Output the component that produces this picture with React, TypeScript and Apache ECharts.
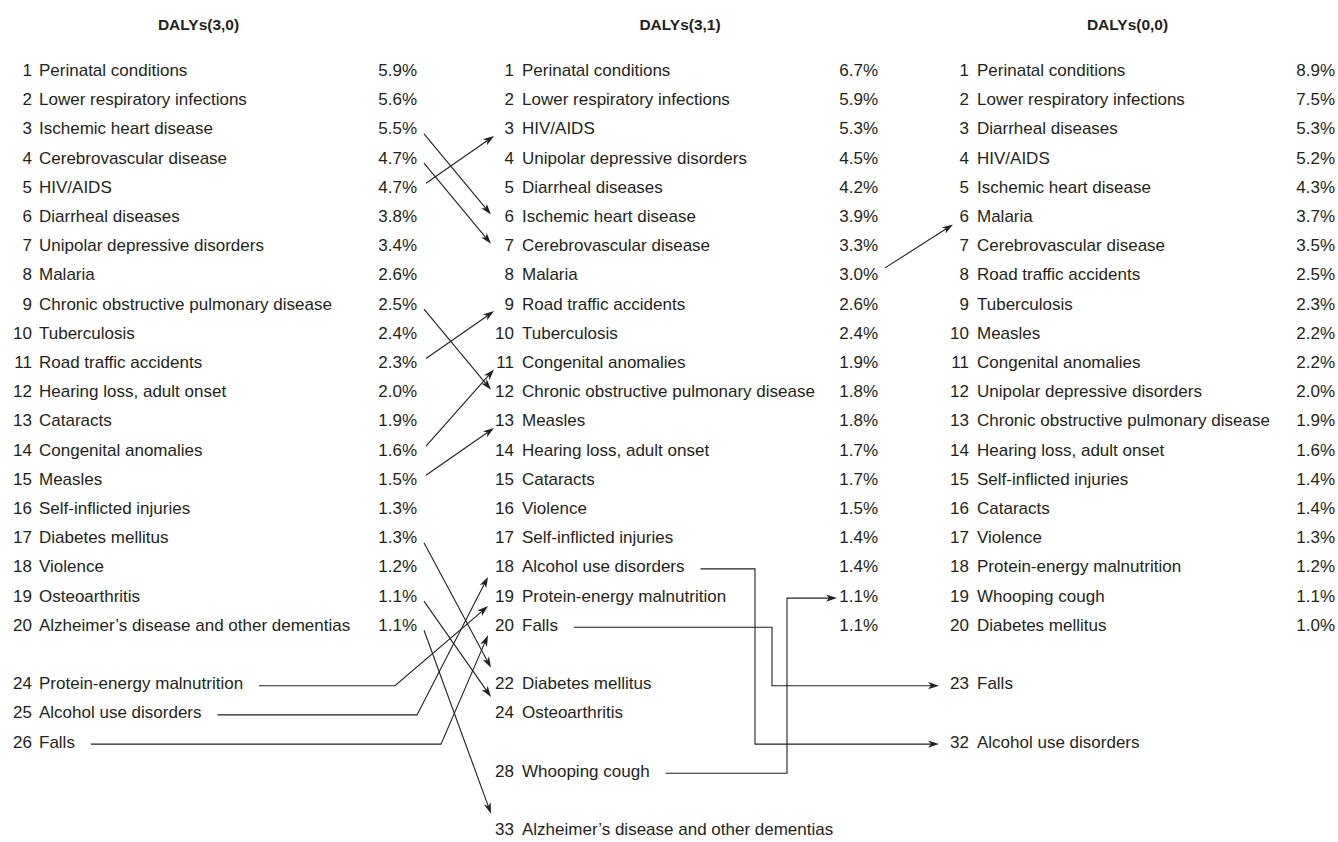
import React, { useEffect, useRef } from 'react';
import * as echarts from 'echarts';

// ---------- data ----------
const titles = ['DALYs(3,0)', 'DALYs(3,1)', 'DALYs(0,0)'];

const causes30 = [
  'Perinatal conditions', 'Lower respiratory infections', 'Ischemic heart disease', 'Cerebrovascular disease',
  'HIV/AIDS', 'Diarrheal diseases', 'Unipolar depressive disorders', 'Malaria',
  'Chronic obstructive pulmonary disease', 'Tuberculosis', 'Road traffic accidents', 'Hearing loss, adult onset',
  'Cataracts', 'Congenital anomalies', 'Measles', 'Self-inflicted injuries', 'Diabetes mellitus', 'Violence',
  'Osteoarthritis', 'Alzheimer\u2019s disease and other dementias',
];
const shares30 = [5.9, 5.6, 5.5, 4.7, 4.7, 3.8, 3.4, 2.6, 2.5, 2.4, 2.3, 2.0, 1.9, 1.6, 1.5, 1.3, 1.3, 1.2, 1.1, 1.1];
const extraRanks30 = [24, 25, 26];
const extraCauses30 = ['Protein-energy malnutrition', 'Alcohol use disorders', 'Falls'];
const extraRows30 = [22, 23, 24];

const causes31 = [
  'Perinatal conditions', 'Lower respiratory infections', 'HIV/AIDS', 'Unipolar depressive disorders',
  'Diarrheal diseases', 'Ischemic heart disease', 'Cerebrovascular disease', 'Malaria', 'Road traffic accidents',
  'Tuberculosis', 'Congenital anomalies', 'Chronic obstructive pulmonary disease', 'Measles',
  'Hearing loss, adult onset', 'Cataracts', 'Violence', 'Self-inflicted injuries', 'Alcohol use disorders',
  'Protein-energy malnutrition', 'Falls',
];
const shares31 = [6.7, 5.9, 5.3, 4.5, 4.2, 3.9, 3.3, 3.0, 2.6, 2.4, 1.9, 1.8, 1.8, 1.7, 1.7, 1.5, 1.4, 1.4, 1.1, 1.1];
const extraRanks31 = [22, 24, 28, 33];
const extraCauses31 = ['Diabetes mellitus', 'Osteoarthritis', 'Whooping cough', 'Alzheimer\u2019s disease and other dementias'];
const extraRows31 = [22, 23, 25, 27];

const causes00 = [
  'Perinatal conditions', 'Lower respiratory infections', 'Diarrheal diseases', 'HIV/AIDS',
  'Ischemic heart disease', 'Malaria', 'Cerebrovascular disease', 'Road traffic accidents', 'Tuberculosis',
  'Measles', 'Congenital anomalies', 'Unipolar depressive disorders', 'Chronic obstructive pulmonary disease',
  'Hearing loss, adult onset', 'Self-inflicted injuries', 'Cataracts', 'Violence', 'Protein-energy malnutrition',
  'Whooping cough', 'Diabetes mellitus',
];
const shares00 = [8.9, 7.5, 5.3, 5.2, 4.3, 3.7, 3.5, 2.5, 2.3, 2.2, 2.2, 2.0, 1.9, 1.6, 1.4, 1.4, 1.3, 1.2, 1.1, 1.0];
const extraRanks00 = [23, 32];
const extraCauses00 = ['Falls', 'Alcohol use disorders'];
const extraRows00 = [22, 24];

// rank moves drawn as arrows: [rank before, rank after]
const shifts30to31 = [[3, 6], [4, 7], [5, 3], [9, 12], [11, 9], [14, 11], [15, 13], [17, 22], [19, 24], [20, 33], [24, 19], [25, 18], [26, 20]];
const shifts31to00 = [[8, 6], [18, 32], [20, 23], [28, 19]];

// ---------- layout ----------
const FONT_FAMILY = '"Liberation Sans", Arial, sans-serif';
const FONT_SIZE = 17;
const INK = '#231f20';
const RANK_RIGHT = [32, 514, 969];
const NAME_LEFT = [39, 522, 977];
const SHARE_RIGHT = [417, 878, 1335];
const TITLE_CENTER = [198.5, 680, 1127.5];
const ELBOW_X_0: Record<number, number> = { 24: 395, 25: 417, 26: 441 };
const ELBOW_X_1: Record<number, number> = { 18: 755, 20: 772, 28: 787 };

type Col = { ranks: number[]; names: string[]; shares: (number | null)[]; rows: number[] };
function makeCol(causes: string[], shares: number[], xr: number[], xc: string[], xrows: number[]): Col {
  return {
    ranks: causes.map((_, i) => i + 1).concat(xr),
    names: causes.concat(xc),
    shares: (shares as (number | null)[]).concat(xr.map(() => null)),
    rows: causes.map((_, i) => i + 1).concat(xrows),
  };
}
const cols = [
  makeCol(causes30, shares30, extraRanks30, extraCauses30, extraRows30),
  makeCol(causes31, shares31, extraRanks31, extraCauses31, extraRows31),
  makeCol(causes00, shares00, extraRanks00, extraCauses00, extraRows00),
];

export default function App() {
  const ref = useRef<HTMLDivElement>(null);
  useEffect(() => {
    document.body.style.margin = '0';
    const font = `${FONT_SIZE}px ${FONT_FAMILY}`;
    const ctx = document.createElement('canvas').getContext('2d')!;
    ctx.font = font;
    const measure = (t: string) => ctx.measureText(t).width;

    type TextItem = { x: number; row: number; text: string; align: string };
    const texts: TextItem[] = [];
    cols.forEach((c, ci) => {
      c.ranks.forEach((r, i) => {
        texts.push({ x: RANK_RIGHT[ci], row: c.rows[i], text: String(r), align: 'right' });
        texts.push({ x: NAME_LEFT[ci], row: c.rows[i], text: c.names[i], align: 'left' });
        const s = c.shares[i];
        if (s != null) texts.push({ x: SHARE_RIGHT[ci], row: c.rows[i], text: s.toFixed(1) + '%', align: 'right' });
      });
    });

    const rowOf = (ci: number, rank: number) => cols[ci].rows[cols[ci].ranks.indexOf(rank)];
    const nameEnd = (ci: number, rank: number) =>
      NAME_LEFT[ci] + measure(cols[ci].names[cols[ci].ranks.indexOf(rank)]);

    // each arrow: list of [x, row, pixel offset in y]
    const arrows: number[][][] = [];
    shifts30to31.forEach(([a, b]) => {
      const ra = rowOf(0, a), rb = rowOf(1, b);
      if (a > 20) {
        arrows.push([[nameEnd(0, a) + 16, ra, 2], [ELBOW_X_0[a], ra, 2], [488, rb, 10]]);
      } else if (b > a) {
        arrows.push([[424, ra, 5], [491, rb, b > 20 ? -16 : -2]]);
      } else {
        arrows.push([[426, ra, -4], [494, rb, 7]]);
      }
    });
    shifts31to00.forEach(([a, b]) => {
      const ra = rowOf(1, a), rb = rowOf(2, b);
      if (a > 20 || b > 20) {
        const vx = ELBOW_X_1[a];
        const endX = b > 20 ? 939 : 837;
        arrows.push([[nameEnd(1, a) + 16, ra, 2], [vx, ra, 2], [vx, rb, 2], [endX, rb, 2]]);
      } else {
        arrows.push([[885, ra, -7], [953, rb, 8]]);
      }
    });

    const chart = echarts.init(ref.current!, null, { renderer: 'svg' });
    chart.setOption({
      animation: false,
      backgroundColor: '#ffffff',
      title: titles.map((t, i) => ({
        text: t,
        left: TITLE_CENTER[i],
        top: 16,
        padding: 0,
        textAlign: 'center',
        textStyle: { fontFamily: FONT_FAMILY, fontSize: 15.5, fontWeight: 'bold', color: INK },
      })),
      grid: { left: 0, right: 0, top: 70.5, bottom: 12.3 },
      xAxis: { type: 'value', min: 0, max: 1338, show: false },
      yAxis: { type: 'value', min: 1, max: 27, inverse: true, show: false },
      series: [
        {
          type: 'custom',
          silent: true,
          clip: false,
          data: arrows.map((a) => [a[0][0], a[0][1]]),
          renderItem: (params: any, api: any) => {
            const a = arrows[params.dataIndex];
            const pts = a.map(([x, r, dy]) => {
              const p = api.coord([x, r]);
              return [p[0], p[1] + dy];
            });
            const E = pts[pts.length - 1];
            const P = pts[pts.length - 2];
            const dx = E[0] - P[0], dy = E[1] - P[1];
            const len = Math.hypot(dx, dy) || 1;
            const ux = dx / len, uy = dy / len, nx = -uy, ny = ux;
            const L = 11, W = 3.6, N = 3;
            const notch = [E[0] - ux * (L - N), E[1] - uy * (L - N)];
            const b1 = [E[0] - ux * L + nx * W, E[1] - uy * L + ny * W];
            const b2 = [E[0] - ux * L - nx * W, E[1] - uy * L - ny * W];
            return {
              type: 'group',
              children: [
                { type: 'polyline', shape: { points: pts.slice(0, -1).concat([notch]) }, style: { stroke: INK, lineWidth: 1.1, fill: null } },
                { type: 'polygon', shape: { points: [E, b1, notch, b2] }, style: { fill: INK, stroke: null } },
              ],
            };
          },
        },
        {
          type: 'custom',
          silent: true,
          clip: false,
          data: texts.map((t) => [t.x, t.row]),
          renderItem: (params: any, api: any) => {
            const t = texts[params.dataIndex];
            const p = api.coord([api.value(0), api.value(1)]);
            return {
              type: 'text',
              x: p[0],
              y: p[1],
              style: {
                text: t.text,
                align: t.align,
                verticalAlign: 'middle',
                fontFamily: FONT_FAMILY,
                fontSize: FONT_SIZE,
                fill: INK,
              },
            };
          },
        },
      ],
    });
    return () => chart.dispose();
  }, []);
  return <div ref={ref} style={{ width: 1338, height: 842 }} />;
}
